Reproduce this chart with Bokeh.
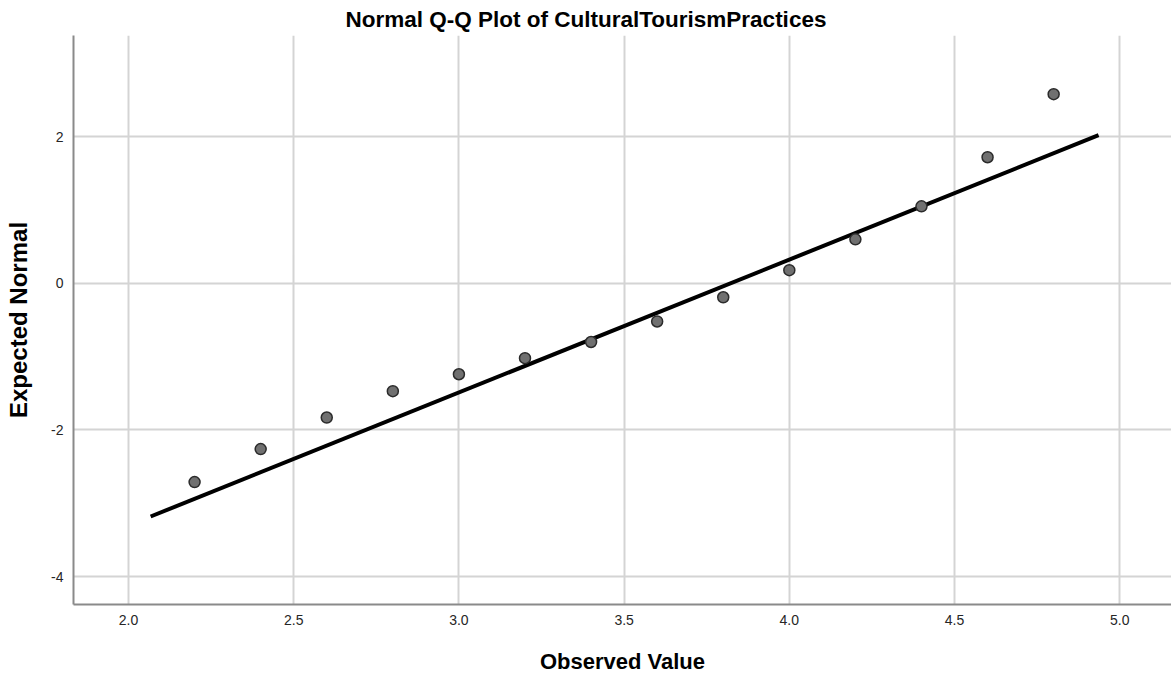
from bokeh.plotting import figure
from bokeh.models import FixedTicker, Range1d
from bokeh.embed import file_html
from bokeh.resources import INLINE

# Data
observed = [2.2, 2.4, 2.6, 2.8, 3.0, 3.2, 3.4, 3.6, 3.8, 4.0, 4.2, 4.4, 4.6, 4.8]
expected = [-2.71, -2.26, -1.83, -1.47, -1.24, -1.02, -0.80, -0.52, -0.19, 0.18, 0.60, 1.05, 1.72, 2.58]
line_x = [2.067, 4.936]
line_y = [-3.18, 2.02]
x_ticks = [2.0, 2.5, 3.0, 3.5, 4.0, 4.5, 5.0]
y_ticks = [-4, -2, 0, 2]

FONT = "Liberation Sans"

p = figure(width=1171, height=679, output_backend="svg", toolbar_location=None,
           x_range=Range1d(1.8335, 5.1567), y_range=Range1d(-4.38, 3.38),
           min_border_left=73, min_border_top=35, min_border_bottom=75, min_border_right=0)

p.title.text = "Normal Q-Q Plot of CulturalTourismPractices"
p.title.align = "left"
p.title.text_font = FONT
p.title.text_font_size = "22.5px"
p.title.text_font_style = "bold"
p.title.text_color = "#000000"
p.title.offset = 272
p.title.standoff = 8

p.outline_line_color = None
p.background_fill_color = "white"
p.border_fill_color = "white"

p.xaxis.ticker = FixedTicker(ticks=x_ticks)
p.yaxis.ticker = FixedTicker(ticks=y_ticks)
p.xaxis.major_label_overrides = {t: f"{t:.1f}" for t in x_ticks}
p.yaxis.major_label_overrides = {t: str(t) for t in y_ticks}

for ax in (p.xaxis, p.yaxis):
    ax.axis_line_color = "#8a8a8a"
    ax.axis_line_width = 2
    ax.major_tick_in = 0
    ax.major_tick_out = 0
    ax.minor_tick_in = 0
    ax.minor_tick_out = 0
    ax.major_label_text_font = FONT
    ax.major_label_text_font_size = "14px"
    ax.major_label_text_color = "#262626"
    ax.axis_label_text_font = FONT
    ax.axis_label_text_font_style = "bold"
    ax.axis_label_text_color = "#000000"

p.xaxis.axis_label = "Observed Value"
p.yaxis.axis_label = "Expected Normal"
p.xaxis.axis_label_text_font_size = "22px"
p.yaxis.axis_label_text_font_size = "24px"
p.xaxis.major_label_standoff = 10
p.xaxis.axis_label_standoff = 21
p.yaxis.major_label_standoff = 10
p.yaxis.axis_label_standoff = 16

p.xgrid.grid_line_color = "#d4d4d4"
p.ygrid.grid_line_color = "#d4d4d4"
p.xgrid.grid_line_width = 2
p.ygrid.grid_line_width = 2

p.line(line_x, line_y, line_color="black", line_width=4)
p.scatter(observed, expected, size=11, fill_color="#707070", line_color="#2b2b2b", line_width=1.5)

open("out.html", "w").write(file_html(p, INLINE))
